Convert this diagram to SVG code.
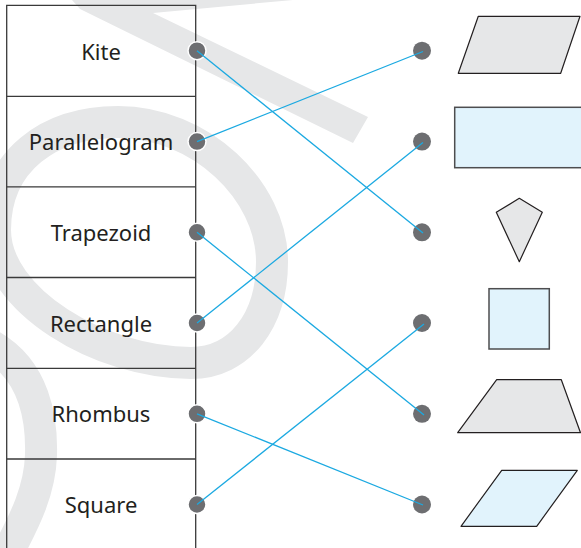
<svg xmlns="http://www.w3.org/2000/svg" width="581" height="548" viewBox="0 0 581 548">
<style>
.wm{fill:none;stroke:#e6e7e8;stroke-width:32}
.cell{fill:none;stroke:#3a3a3a;stroke-width:1.3}
.lbl{font-family:"Noto Sans","Liberation Sans",sans-serif;font-size:22px;fill:#231f20;text-anchor:middle}
.dl{fill:#6d6e71;stroke:#ffffff;stroke-width:1.5}
.dr{fill:#6d6e71}
.conn{stroke:#1ba9e1;stroke-width:1.3;fill:none}
.sg{fill:#e6e7e8;stroke:#231f20;stroke-width:1.2;stroke-linejoin:round}
.sb{fill:#e1f3fc;stroke:#231f20;stroke-width:1.2;stroke-linejoin:round}
.sbr{fill:#e1f3fc;stroke:#4d4d4f;stroke-width:1.5}
</style>
<rect width="581" height="548" fill="#ffffff"/>
<g id="watermark">
<path d="M72,0 L293,0 L153,13 L368,117 L353,143 L80,9 Z" fill="#e6e7e8"/>
<path class="wm" d="M118,122 C200,122 272,190 272,262 C272,320 240,363 191,363 C100,363 -5,300 -5,230 C-5,160 50,122 118,122 Z"/>
<path class="wm" d="M-10,345 C35,370 42,420 41,455 C40,490 25,520 8,552"/>
</g>
<g id="table">
<path class="cell" d="M6.7,552 V5.3 H195.7 V552"/>
<path class="cell" d="M6.7,96.3 H195.7 M6.7,186.8 H195.7 M6.7,277.5 H195.7 M6.7,368.3 H195.7 M6.7,459 H195.7"/>
</g>
<g id="node-kite"><text class="lbl" x="101" y="59.5">Kite</text><circle class="dl" cx="197" cy="50.7" r="9"/></g>
<g id="node-parallelogram"><text class="lbl" x="101" y="150.2">Parallelogram</text><circle class="dl" cx="197" cy="141.6" r="9"/></g>
<g id="node-trapezoid"><text class="lbl" x="101" y="240.9">Trapezoid</text><circle class="dl" cx="197" cy="232.3" r="9"/></g>
<g id="node-rectangle"><text class="lbl" x="101" y="331.6">Rectangle</text><circle class="dl" cx="197" cy="323" r="9"/></g>
<g id="node-rhombus"><text class="lbl" x="101" y="422.3">Rhombus</text><circle class="dl" cx="197" cy="413.8" r="9"/></g>
<g id="node-square"><text class="lbl" x="101" y="513">Square</text><circle class="dl" cx="197" cy="504.5" r="9"/></g>
<g id="shape-1"><circle class="dr" cx="422" cy="50.7" r="9"/><polygon class="sg" points="478.3,16.3 580,16.3 560.7,73.3 458.3,73.3"/></g>
<g id="shape-2"><circle class="dr" cx="422" cy="141.6" r="9"/><rect class="sbr" x="454.7" y="107.3" width="130" height="60.4"/></g>
<g id="shape-3"><circle class="dr" cx="422" cy="232.3" r="9"/><polygon class="sg" points="519.3,198.3 542.3,212.3 519.3,261.7 496.3,212.3"/></g>
<g id="shape-4"><circle class="dr" cx="422" cy="323" r="9"/><rect class="sbr" x="489" y="288.7" width="60.3" height="60.3"/></g>
<g id="shape-5"><circle class="dr" cx="422" cy="413.8" r="9"/><polygon class="sg" points="496.7,379.7 561.3,379.7 580.5,432.7 457.7,432.7"/></g>
<g id="shape-6"><circle class="dr" cx="422" cy="504.5" r="9"/><polygon class="sb" points="501.7,470.3 577.3,470.3 536.7,526.3 461,526.3"/></g>
<g id="connectors">
<line class="conn" x1="197" y1="50.7" x2="423" y2="233"/>
<line class="conn" x1="197" y1="141.6" x2="423" y2="51.5"/>
<line class="conn" x1="197" y1="232.3" x2="424" y2="415"/>
<line class="conn" x1="197" y1="323" x2="423" y2="142.5"/>
<line class="conn" x1="197" y1="413.8" x2="423" y2="505"/>
<line class="conn" x1="197" y1="504.5" x2="424" y2="324"/>
</g>
</svg>
